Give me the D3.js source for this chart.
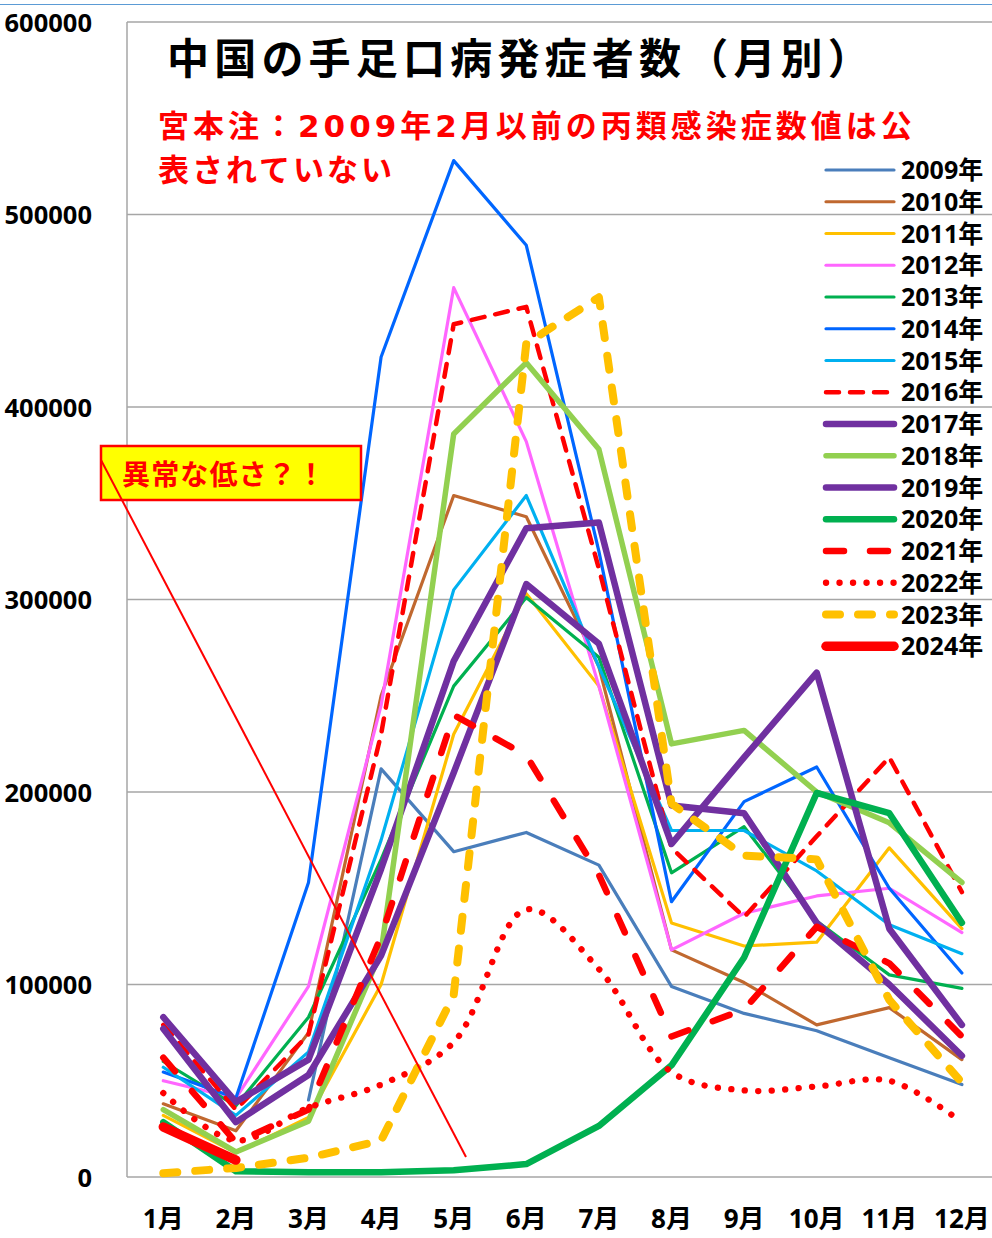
<!DOCTYPE html>
<html><head><meta charset="utf-8">
<script src="https://cdn.jsdelivr.net/npm/d3@7"></script>
<style>
html,body{margin:0;padding:0;background:#fff;}
svg{display:block;}
text{font-family:"Open Sans","Noto Sans CJK JP",sans-serif;font-weight:bold;}
.cjk{font-family:"Noto Sans CJK JP",sans-serif;font-weight:bold;}
.sub{font-family:"DejaVu Sans","Noto Sans CJK JP",sans-serif;font-weight:bold;}
</style></head>
<body>
<svg id="chart" width="992" height="1238"></svg>
<script>
const months = ["1月","2月","3月","4月","5月","6月","7月","8月","9月","10月","11月","12月"];
const yTicks = [0,100000,200000,300000,400000,500000,600000];
const years = ["2009年","2010年","2011年","2012年","2013年","2014年","2015年","2016年","2017年","2018年","2019年","2020年","2021年","2022年","2023年","2024年"];

const y2009 = [null,null,40000,212000,169000,179000,162000,99000,85000,76000,62000,48000];
const y2010 = [38000,24000,75000,250000,354000,343000,265000,118000,101000,79000,88000,61000];
const y2011 = [32000,12500,31000,100000,230000,303000,255000,132000,120000,122000,171000,129000];
const y2012 = [50000,41000,99000,245000,462000,382000,255000,118000,137000,146000,150000,127000];
const y2013 = [60000,37000,83000,165000,255000,301000,270000,158000,182000,133000,105000,98000];
const y2014 = [54500,41000,153000,426000,528000,484000,325000,143000,195000,213000,150000,106000];
const y2015 = [57000,32000,65000,175000,305000,354000,265000,180000,180000,159000,131000,116000];
const y2016 = [79000,35000,74000,230000,443000,452000,316000,171000,135000,177000,218000,148000];
const y2017 = [83000,39000,61000,160000,268000,337000,340000,193000,189000,132000,100000,63000];
const y2018 = [35000,13000,29000,117000,386000,423000,378000,225000,232000,200000,184000,153000];
const y2019 = [77000,28500,53000,115000,210000,308000,277000,173000,218000,262000,129000,79000];
const y2020 = [28500,3000,2500,2500,3500,6700,26500,58000,114000,199500,189000,132000];
const y2021 = [62000,18000,35000,125000,240000,219000,157000,73000,87000,130000,111000,73000];
const y2022 = [43600,19000,36000,48000,70000,139000,108000,54500,45000,47000,50000,28500];
const y2023 = [2000,4700,10000,19000,94500,433000,457000,194000,167000,165000,92000,49000];
const y2024 = [26000,8800];

const seriesValues = [y2009,y2010,y2011,y2012,y2013,y2014,y2015,y2016,y2017,y2018,y2019,y2020,y2021,y2022,y2023,y2024];

// styles (separate from data)
const styles = [
  {c:"#4A7EBB", w:3.2},
  {c:"#C0682F", w:3.2},
  {c:"#FFC000", w:3.2},
  {c:"#FF66FF", w:3.2},
  {c:"#00B050", w:3.2},
  {c:"#0066FF", w:3.2},
  {c:"#00B0F0", w:3.2},
  {c:"#FF0000", w:4.5, dash:"13,11"},
  {c:"#7030A0", w:6.5},
  {c:"#92D050", w:5.5},
  {c:"#7030A0", w:6.5},
  {c:"#00B050", w:6.5},
  {c:"#FF0000", w:6.5, dash:"18,26"},
  {c:"#FF0000", w:6.3, dash:"0.1,13.4", smooth:true},
  {c:"#FFC000", w:8, dash:"14,18"},
  {c:"#FF0000", w:9.5}
];

const svg = d3.select("#chart");
const W = 992;
const x = d3.scaleBand().domain(months).range([127, 127 + 12*72.6]).padding(0);
const y = d3.scaleLinear().domain([0,600000]).range([1177, 22]);
const cx = m => x(m) + x.bandwidth()/2;

// top blue line
svg.append("line").attr("x1",0).attr("x2",W).attr("y1",4.5).attr("y2",4.5)
  .attr("stroke","#5B9BD5").attr("stroke-width",1.2);

// gridlines
svg.append("g").selectAll("line").data(yTicks.filter(d=>d>0)).join("line")
  .attr("x1",127).attr("x2",W).attr("y1",d=>y(d)).attr("y2",d=>y(d))
  .attr("stroke","#A6A6A6").attr("stroke-width",1.5);
// axes lines
svg.append("line").attr("x1",127).attr("x2",127).attr("y1",y(600000)).attr("y2",y(0))
  .attr("stroke","#A6A6A6").attr("stroke-width",1.5);
svg.append("line").attr("x1",127).attr("x2",W).attr("y1",y(0)).attr("y2",y(0))
  .attr("stroke","#A6A6A6").attr("stroke-width",1.5);

// y labels
const yAxis = d3.axisLeft(y).tickValues(yTicks).tickSize(0).tickFormat(d=>String(d));
const ya = svg.append("g").attr("transform","translate(92,0)").call(yAxis);
ya.select(".domain").remove();
ya.selectAll("text").attr("x",0).attr("dy","0.36em").attr("fill","#000")
  .style("font-size","25.5px").style("font-family",'"Open Sans","Noto Sans CJK JP",sans-serif').style("font-weight","bold");

// x labels
const xAxis = d3.axisBottom(x).tickSize(0);
const xa = svg.append("g").attr("transform","translate(0,1177)").call(xAxis);
xa.select(".domain").remove();
xa.selectAll("text").attr("y",51).attr("dy",0).attr("fill","#000")
  .style("font-size","26px").style("font-family",'"Open Sans","Noto Sans CJK JP",sans-serif').style("font-weight","bold");

// lines
const lineLinear = d3.line().defined(d=>d.v!=null).x(d=>cx(d.m)).y(d=>y(d.v));
const lineSmooth = d3.line().defined(d=>d.v!=null).x(d=>cx(d.m)).y(d=>y(d.v)).curve(d3.curveCatmullRom.alpha(0.5));

const gLines = svg.append("g");
seriesValues.forEach((vals,i)=>{
  const st = styles[i];
  const pts = vals.map((v,j)=>({m:months[j], v:v}));
  gLines.append("path").datum(pts)
    .attr("d", st.smooth ? lineSmooth : lineLinear)
    .attr("fill","none").attr("stroke",st.c).attr("stroke-width",st.w)
    .attr("stroke-linejoin","round").attr("stroke-linecap","round")
    .attr("stroke-dasharray", st.dash || null);
});

// annotation
svg.append("rect").attr("x",101).attr("y",446).attr("width",260).attr("height",54)
  .attr("fill","#FFFF00").attr("stroke","#FF0000").attr("stroke-width",2.5);
svg.append("line").attr("x1",101).attr("y1",460).attr("x2",466).attr("y2",1157)
  .attr("stroke","#FF0000").attr("stroke-width",2);
svg.append("text").attr("class","cjk").attr("x",122).attr("y",485)
  .attr("fill","#FF0000").style("font-size","28px")
  .attr("textLength",203).attr("lengthAdjust","spacing").text("異常な低さ？！");

// title
svg.append("text").attr("class","cjk").attr("x",167).attr("y",74)
  .attr("fill","#000").style("font-size","42px").style("letter-spacing","5.2px")
  .text("中国の手足口病発症者数（月別）");
svg.append("text").attr("class","sub").attr("x",158).attr("y",137)
  .attr("fill","#FF0000").style("font-size","31px").style("letter-spacing","4px")
  .text("宮本注：2009年2月以前の丙類感染症数値は公");
svg.append("text").attr("class","cjk").attr("x",158).attr("y",181)
  .attr("fill","#FF0000").style("font-size","31px").style("letter-spacing","3px")
  .text("表されていない");

// legend
const leg = svg.append("g");
years.forEach((yr,i)=>{
  const st = styles[i];
  const ly = 170 + i*31.75;
  leg.append("line").attr("x1",826).attr("x2",894).attr("y1",ly).attr("y2",ly)
    .attr("stroke",st.c).attr("stroke-width",st.w)
    .attr("stroke-linecap","round")
    .attr("stroke-dasharray", st.dash || null);
  leg.append("text").attr("x",901).attr("y",ly).attr("dy","0.36em")
    .attr("fill","#000").style("font-size","25px").text(yr);
});
</script>
</body></html>
